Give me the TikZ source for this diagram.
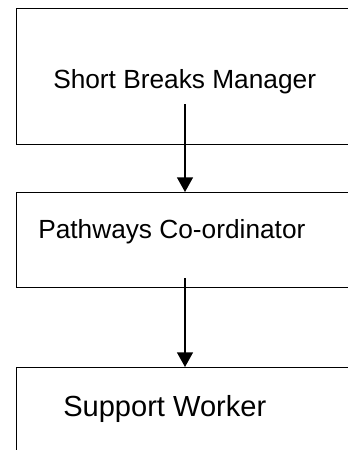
\documentclass[tikz,border=0pt]{standalone}
\usepackage{fontspec}
\setmainfont{Liberation Sans}
\usetikzlibrary{arrows.meta}

\begin{document}
\begin{tikzpicture}[x=0.75pt,y=-0.75pt,
  post/.style={draw,line width=1pt,anchor=north west,inner sep=0pt,
    minimum width=273pt},
  label/.style={anchor=base west,inner sep=0pt,font=\fontsize{19.7}{24}\selectfont},
  link/.style={line width=1pt,-{Triangle[length=11pt,width=12pt]}}]
  \useasboundingbox (0,0) rectangle (348,450);
  \clip (0,0) rectangle (348,450);
  \node[post,minimum height=102pt] (manager) at (16,8) {};
  \node[post,minimum height=71.25pt] (coord) at (16,192) {};
  \node[post,minimum height=77.25pt] (worker) at (16,367) {};
  \node[label] (managertext) at (53,88) {Short Breaks Manager};
  \node[label] (coordtext) at (38,238) {Pathways Co-ordinator};
  \node[label,font=\fontsize{21.8}{26}\selectfont] (workertext) at (63,416) {Support Worker};
  \coordinate (from1) at (185,104);
  \coordinate (from2) at (185,278);
  \draw[link] (from1) -- (from1 |- coord.north);
  \draw[link] (from2) -- (from2 |- worker.north);
\end{tikzpicture}
\end{document}
